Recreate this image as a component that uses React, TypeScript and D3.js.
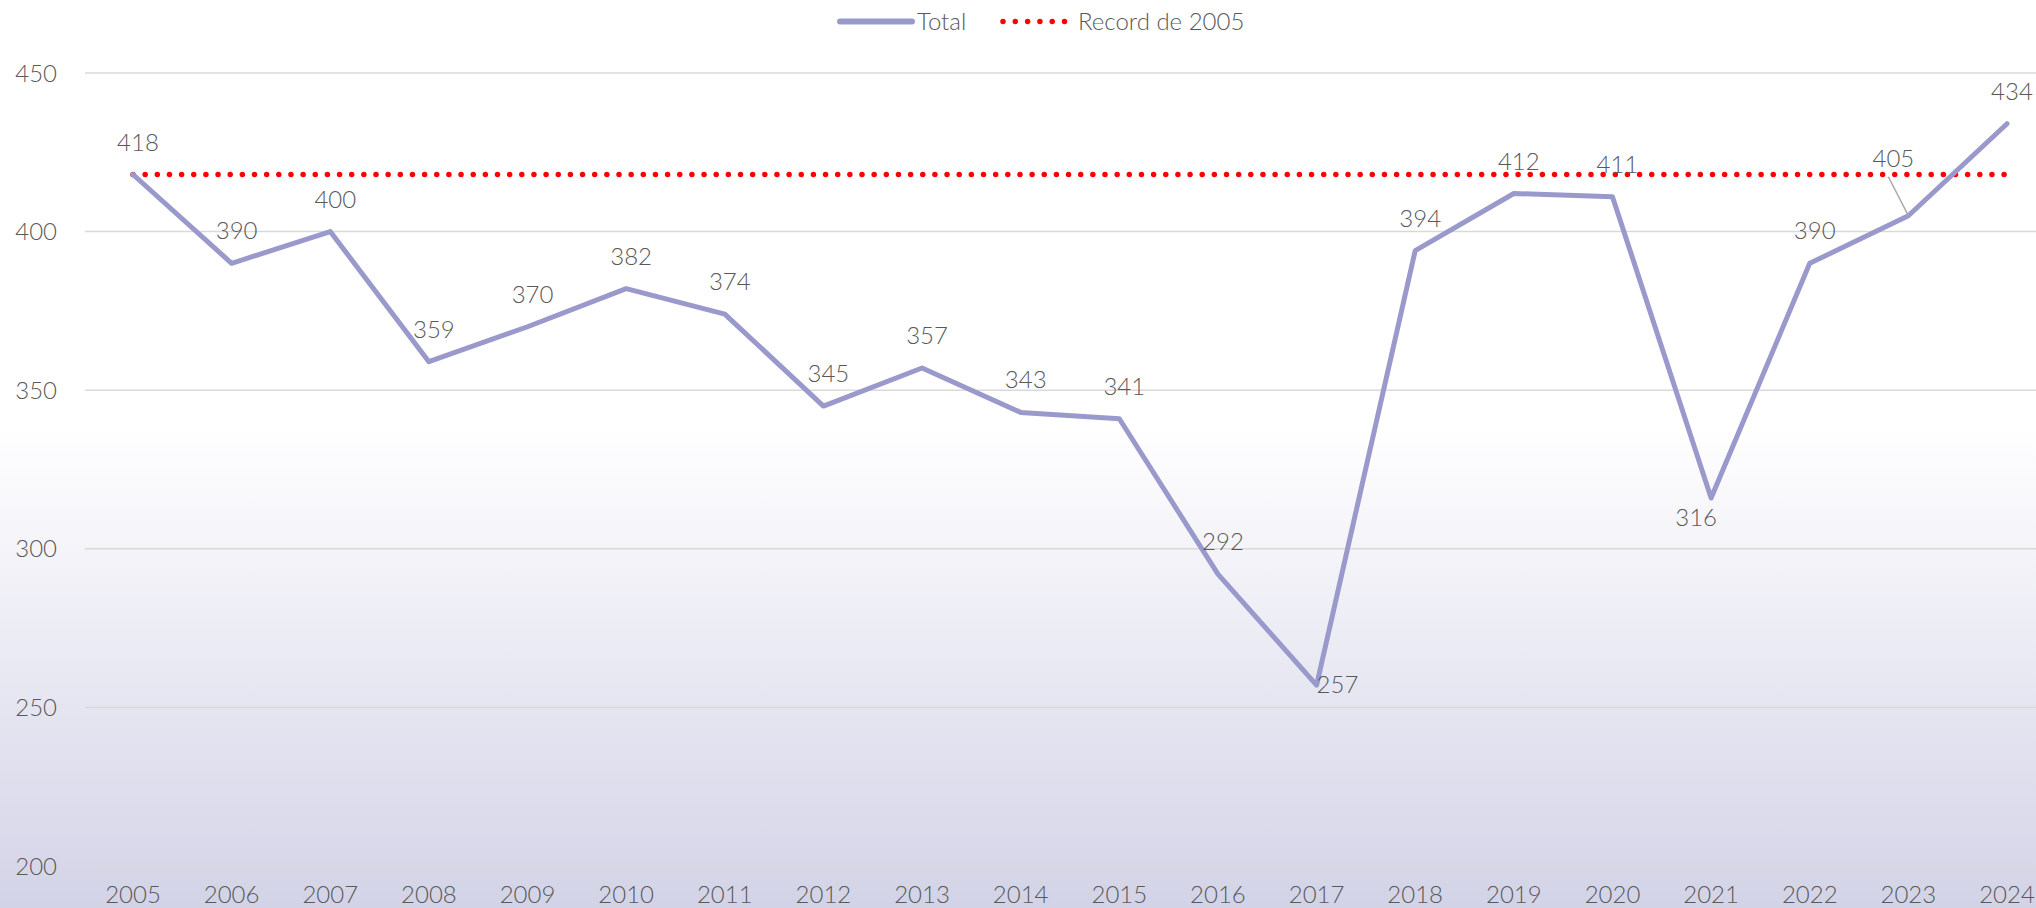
import React from "react";
import * as d3 from "d3";

const years = ["2005","2006","2007","2008","2009","2010","2011","2012","2013","2014","2015","2016","2017","2018","2019","2020","2021","2022","2023","2024"];
const totals = [418,390,400,359,370,382,374,345,357,343,341,292,257,394,412,411,316,390,405,434];
const recordValue = 418;
const yTicks = [200,250,300,350,400,450];
const seriesNames = ["Total", "Record de 2005"];

const W = 2036, H = 908;
const FONT = "Lato, 'Liberation Sans', Arial, sans-serif";
const FW = 300;
const FS = 24;

export default function App() {
  const x = d3.scalePoint<string>().domain(years).range([133, 2007]);
  const y = d3.scaleLinear().domain([200, 450]).range([866, 73]);
  const line = d3.line<number>().x((_, i) => x(years[i])!).y(d => y(d));
  const pts = totals.map((v, i) => ({ v, i, px: x(years[i])!, py: y(v) }));

  const labelPos = (p: { v: number; i: number; px: number; py: number }) => {
    const yr = years[p.i];
    if (yr === "2017") return { lx: p.px, ly: p.py + 8, anchor: "start" };
    if (yr === "2021") return { lx: p.px - 15, ly: p.py + 28, anchor: "middle" };
    if (yr === "2023") return { lx: p.px - 15, ly: p.py - 49, anchor: "middle", leader: true };
    return { lx: p.px + 5, ly: p.py - 24, anchor: "middle" };
  };

  return (
    <svg width={W} height={H} style={{ position: "absolute", left: 0, top: 0, display: "block" }} fontFamily={FONT} fontWeight={FW}>
      <defs>
        <linearGradient id="bg" x1="0" y1="0" x2="0" y2="1">
          <stop offset="0.47" stopColor="#ffffff" />
          <stop offset="1" stopColor="#d3d3e7" />
        </linearGradient>
      </defs>
      <rect x={0} y={0} width={W} height={H} fill="url(#bg)" />
      {yTicks.map(t => (
        <g key={t}>
          <line x1={85} x2={W} y1={y(t)} y2={y(t)} stroke="#d9d9d9" strokeWidth={1.5} />
          <text x={57} y={y(t) + 8.5} textAnchor="end" fontSize={FS} fill="#595959">{t}</text>
        </g>
      ))}
      {years.map(yr => (
        <text key={yr} x={x(yr)!} y={903} textAnchor="middle" fontSize={FS} fill="#595959">{yr}</text>
      ))}
      <line x1={x(years[0])!} x2={x(years[years.length - 1])!} y1={y(recordValue)} y2={y(recordValue)}
        stroke="#ff0000" strokeWidth={5.5} strokeLinecap="round" strokeDasharray="0 12.15" />
      <path d={line(totals)!} fill="none" stroke="#9999cc" strokeWidth={5} strokeLinejoin="round" strokeLinecap="round" />
      {pts.map(p => {
        const l = labelPos(p);
        return (
          <g key={p.i}>
            {l.leader && <line x1={l.lx - 5} y1={l.ly + 10} x2={p.px} y2={p.py} stroke="#a6a6a6" strokeWidth={1.5} />}
            <text x={l.lx} y={l.ly} textAnchor={l.anchor as any} fontSize={FS} fill="#595959">{p.v}</text>
          </g>
        );
      })}
      <g>
        <line x1={840} x2={912} y1={21.5} y2={21.5} stroke="#9999cc" strokeWidth={6} strokeLinecap="round" />
        <text x={917} y={30} fontSize={FS} fill="#595959">{seriesNames[0]}</text>
        <line x1={1003} x2={1066} y1={21.5} y2={21.5} stroke="#ff0000" strokeWidth={5.5} strokeLinecap="round" strokeDasharray="0 12.3" />
        <text x={1078} y={30} fontSize={FS} fill="#595959">{seriesNames[1]}</text>
      </g>
    </svg>
  );
}
